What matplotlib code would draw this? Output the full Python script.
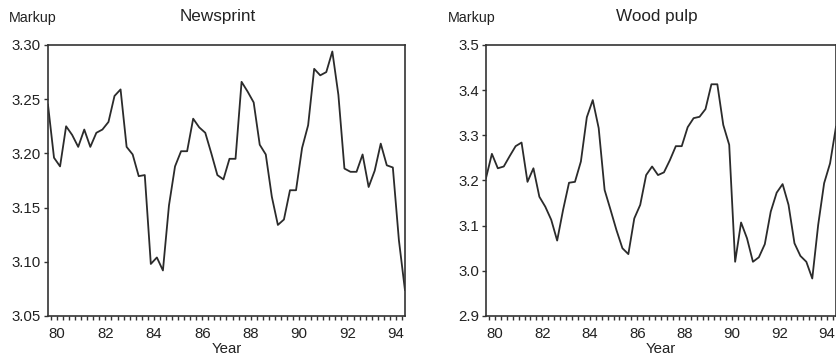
import numpy as np
import matplotlib

matplotlib.use('Agg')
matplotlib.rcParams['font.family'] = ['Liberation Sans', 'DejaVu Sans']
import matplotlib.pyplot as plt
from matplotlib.ticker import MultipleLocator, FixedLocator

# 분기 데이터 1979Q3 ~ 1994Q2 (분기 중앙에 찍음)
start_year = 1979
start_quarter = 3
n_quarters = 60

newsprint = [
    3.245, 3.196, 3.188, 3.225, 3.217, 3.206, 3.222, 3.206, 3.219, 3.222,
    3.229, 3.253, 3.259, 3.206, 3.199, 3.179, 3.180, 3.098, 3.104, 3.092,
    3.152, 3.188, 3.202, 3.202, 3.232, 3.224, 3.219, 3.200, 3.180, 3.176,
    3.195, 3.195, 3.266, 3.257, 3.247, 3.208, 3.199, 3.160, 3.134, 3.139,
    3.166, 3.166, 3.205, 3.226, 3.278, 3.272, 3.275, 3.294, 3.254, 3.186,
    3.183, 3.183, 3.199, 3.169, 3.184, 3.209, 3.189, 3.187, 3.120, 3.074,
]

wood_pulp = [
    3.205, 3.259, 3.227, 3.231, 3.254, 3.276, 3.284, 3.197, 3.227, 3.164,
    3.142, 3.113, 3.067, 3.135, 3.195, 3.197, 3.242, 3.340, 3.378, 3.316,
    3.179, 3.135, 3.090, 3.050, 3.037, 3.116, 3.146, 3.212, 3.231, 3.212,
    3.218, 3.245, 3.276, 3.276, 3.318, 3.338, 3.341, 3.358, 3.413, 3.413,
    3.323, 3.279, 3.020, 3.107, 3.072, 3.020, 3.030, 3.059, 3.131, 3.173,
    3.192, 3.146, 3.061, 3.033, 3.020, 2.983, 3.102, 3.194, 3.238, 3.319,
]

titles = ['Newsprint', 'Wood pulp']
y_ranges = [(3.05, 3.30), (2.9, 3.5)]
y_steps = [0.05, 0.1]
y_formats = ['%.2f', '%.1f']
x_ticks = [80, 82, 84, 86, 88, 90, 92, 94]


def main():
    # 연도(두 자리) 좌표
    x = np.array([start_year - 1900 + (start_quarter - 1 + i) / 4 + 0.125
                  for i in range(n_quarters)])

    fig = plt.figure(figsize=(8.37, 3.59), dpi=100)
    boxes = [[0.0573, 0.1198, 0.4265, 0.7549],
             [0.5806, 0.1198, 0.4182, 0.7549]]
    title_x = [218 / 837, 657 / 837]
    markup_x = [33 / 837, 472 / 837]
    series = [newsprint, wood_pulp]

    for k in range(2):
        ax = fig.add_axes(boxes[k])
        ax.plot(x, series[k], color='#2b2b2b', linewidth=1.3)
        ax.set_xlim(x[0], x[-1])
        ax.set_ylim(*y_ranges[k])

        ax.xaxis.set_major_locator(FixedLocator(x_ticks))
        ax.xaxis.set_minor_locator(MultipleLocator(0.25))
        ax.yaxis.set_major_locator(MultipleLocator(y_steps[k]))
        ax.yaxis.set_major_formatter(matplotlib.ticker.FormatStrFormatter(y_formats[k]))
        ax.tick_params(axis='both', which='both', direction='out', length=3,
                       width=1.0, color='#333333', labelsize=10.8,
                       labelcolor='#222222', pad=2)
        ax.tick_params(axis='x', which='major', pad=5)
        ax.tick_params(axis='y', which='minor', length=0)
        for sp in ax.spines.values():
            sp.set_color('#333333')
            sp.set_linewidth(1.2)

        ax.set_xlabel('Year', fontsize=10.8, color='#222222', labelpad=1)
        fig.text(title_x[k], 1 - 16 / 359, titles[k], ha='center',
                 va='center', fontsize=12.3, color='#222222')
        fig.text(markup_x[k], 1 - 18 / 359, 'Markup', ha='center',
                 va='center', fontsize=10.3, color='#222222')

    fig.savefig('out.png', dpi=100)


if __name__ == '__main__':
    main()
